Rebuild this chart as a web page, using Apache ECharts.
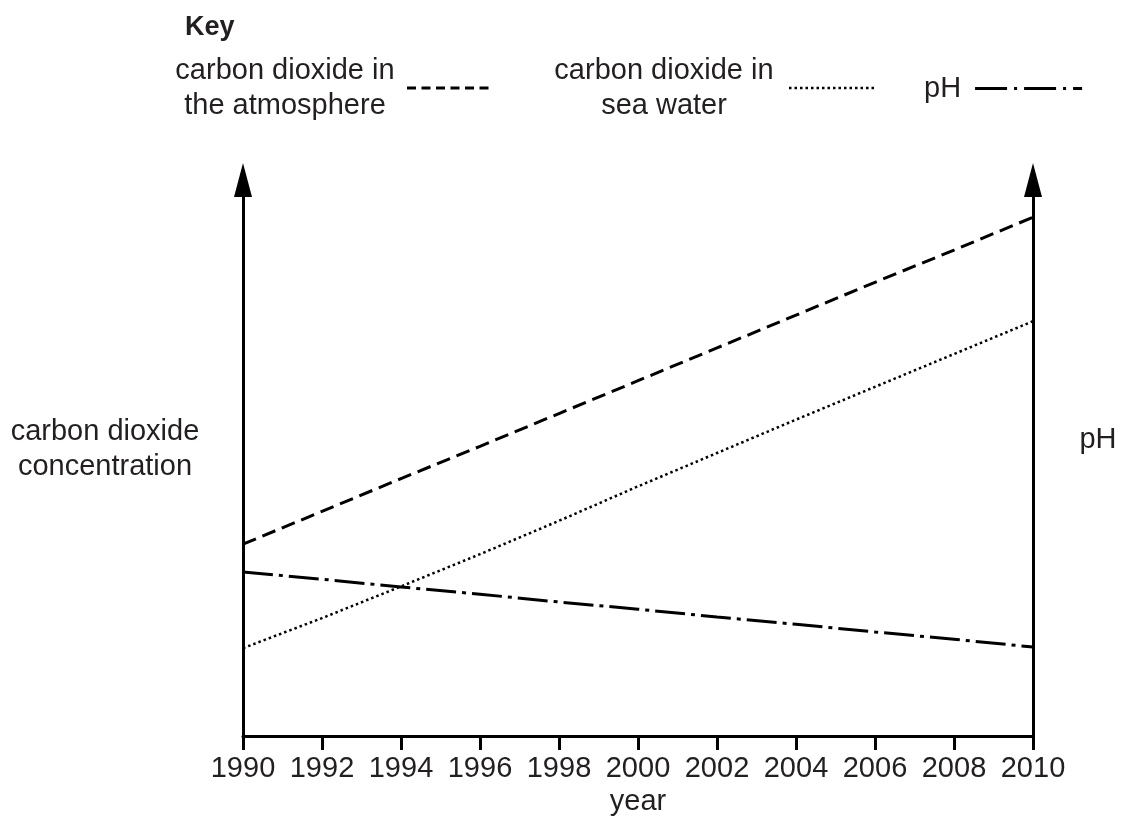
<!DOCTYPE html>
<html>
<head>
<meta charset="utf-8">
<script src="https://cdn.jsdelivr.net/npm/echarts@6/dist/echarts.min.js"></script>
<style>html,body{margin:0;padding:0;background:#fff}#c{width:1121px;height:816px}</style>
</head>
<body>
<div id="c"></div>
<script>
const years = [1990, 1992, 1994, 1996, 1998, 2000, 2002, 2004, 2006, 2008, 2010];
const co2Atmosphere = [34.5, 40.4, 46.3, 52.1, 58.0, 63.9, 69.8, 75.7, 81.6, 87.4, 93.3];
const co2SeaWater = [15.8, 21.2, 26.9, 32.7, 38.7, 44.9, 50.9, 56.9, 62.8, 68.7, 74.6];
const pH = [29.5, 28.2, 26.8, 25.5, 24.1, 22.8, 21.4, 20.1, 18.7, 17.4, 16.0];
const names = ['carbon dioxide in the atmosphere', 'carbon dioxide in sea water', 'pH'];

const FONT = '"Liberation Sans", Arial, sans-serif';
const TXT = '#231f20';
const FS = 29;
const pairs = arr => years.map((y, i) => [y, arr[i]]);

const chart = echarts.init(document.getElementById('c'), null, {renderer: 'canvas'});
const yAxisBase = {
  type: 'value', min: 0, max: 100,
  axisLabel: {show: false}, axisTick: {show: false}, splitLine: {show: false},
  axisLine: {show: true, symbol: ['none', 'triangle'], symbolSize: [18, 34],
             lineStyle: {color: '#000', width: 3}},
  nameLocation: 'middle', nameRotate: 0
};
const legendCommon = {align: 'right', selectedMode: false, itemGap: 0, itemHeight: 12,
                      itemStyle: {opacity: 0}};
chart.setOption({
  animation: false,
  title: {text: 'Key', left: 180, top: 9,
          textStyle: {fontFamily: FONT, fontSize: 27, fontWeight: 'bold', color: TXT}},
  grid: {left: 243, right: 88, top: 180, bottom: 80, outerBoundsMode: 'none'},
  legend: [
    Object.assign({}, legendCommon, {
      data: [names[0]], left: 170, top: 51, itemWidth: 83,
      lineStyle: {type: [9, 5.5], width: 3},
      formatter: () => '{a|carbon dioxide in}\n{a|the atmosphere}',
      textStyle: {rich: {a: {fontFamily: FONT, fontSize: FS, color: TXT, width: 220, align: 'center',
                             lineHeight: 35, padding: [0, 7, 0, 0]}}}}),
    Object.assign({}, legendCommon, {
      data: [names[1]], left: 549, top: 51, itemWidth: 87,
      lineStyle: {type: [2.5, 3], width: 2.5},
      formatter: () => '{a|carbon dioxide in}\n{a|sea water}',
      textStyle: {rich: {a: {fontFamily: FONT, fontSize: FS, color: TXT, width: 220, align: 'center',
                             lineHeight: 35, padding: [0, 10, 0, 0]}}}}),
    Object.assign({}, legendCommon, {
      data: [names[2]], left: 919, top: 69, itemWidth: 107,
      lineStyle: {type: [32, 7, 3, 7], width: 3},
      formatter: () => '{a|pH}',
      textStyle: {rich: {a: {fontFamily: FONT, fontSize: FS, color: TXT, lineHeight: 35, padding: [0, 9, 0, 0]}}}})
  ],
  xAxis: {
    type: 'value', min: 1990, max: 2010, interval: 2,
    name: 'year', nameLocation: 'middle', nameGap: 48,
    nameTextStyle: {fontFamily: FONT, fontSize: FS, color: TXT},
    axisLine: {lineStyle: {color: '#000', width: 3}},
    axisTick: {show: true, length: 14, lineStyle: {color: '#000', width: 3}},
    axisLabel: {fontFamily: FONT, fontSize: 29, color: TXT, margin: 18, formatter: v => String(v)},
    splitLine: {show: false}
  },
  yAxis: [
    Object.assign({}, yAxisBase, {
      position: 'left', name: '{a|carbon dioxide}\n{a|concentration}\n{b| }', nameGap: 138,
      nameTextStyle: {align: 'center', rich: {
        a: {fontFamily: FONT, fontSize: FS, color: TXT, lineHeight: 35, align: 'center'},
        b: {fontSize: 10, lineHeight: 18}}}
    }),
    Object.assign({}, yAxisBase, {
      position: 'right', name: '{a|pH}\n{b| }', nameGap: 65,
      nameTextStyle: {align: 'center', rich: {
        a: {fontFamily: FONT, fontSize: FS, color: TXT, lineHeight: 36, align: 'center'},
        b: {fontSize: 10, lineHeight: 36}}}
    })
  ],
  series: [
    {name: names[0], type: 'line', yAxisIndex: 0, data: pairs(co2Atmosphere), symbol: 'none',
     lineStyle: {color: '#000', width: 3, type: [14, 7]}, itemStyle: {color: '#000'}},
    {name: names[1], type: 'line', yAxisIndex: 0, data: pairs(co2SeaWater), symbol: 'none',
     lineStyle: {color: '#000', width: 2.5, type: [2.5, 3]}, itemStyle: {color: '#000'}},
    {name: names[2], type: 'line', yAxisIndex: 1, data: pairs(pH), symbol: 'none',
     lineStyle: {color: '#000', width: 3, type: [30, 6, 4, 6]}, itemStyle: {color: '#000'}}
  ]
});
</script>
</body>
</html>
